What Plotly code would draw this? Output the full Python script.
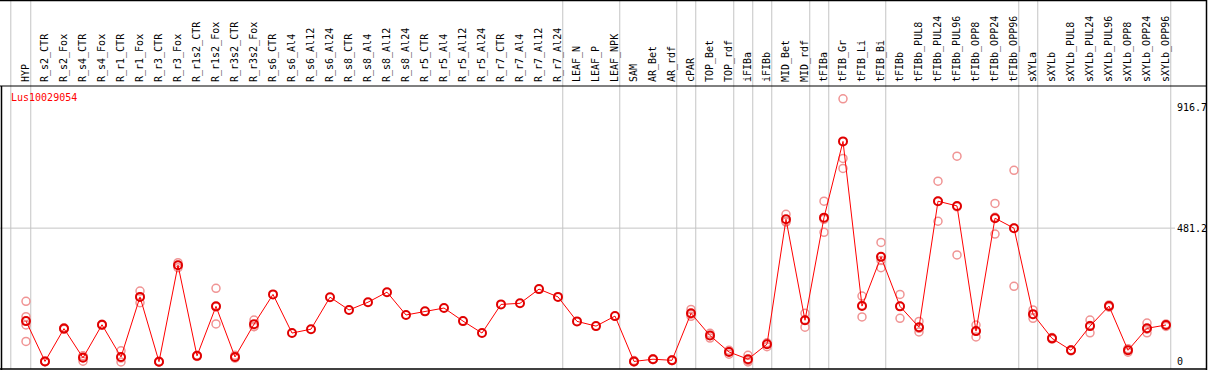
import plotly.graph_objects as go

categories = ["HYP", "R_s2_CTR", "R_s2_Fox", "R_s4_CTR", "R_s4_Fox", "R_r1_CTR", "R_r1_Fox",
              "R_r3_CTR", "R_r3_Fox", "R_r1s2_CTR", "R_r1s2_Fox", "R_r3s2_CTR", "R_r3s2_Fox",
              "R_s6_CTR", "R_s6_Al4", "R_s6_Al12", "R_s6_Al24", "R_s8_CTR", "R_s8_Al4", "R_s8_Al12",
              "R_s8_Al24", "R_r5_CTR", "R_r5_Al4", "R_r5_Al12", "R_r5_Al24", "R_r7_CTR", "R_r7_Al4",
              "R_r7_Al12", "R_r7_Al24", "LEAF_N", "LEAF_P", "LEAF_NPK", "SAM", "AR_Bet", "AR_rdf",
              "cPAR", "TOP_Bet", "TOP_rdf", "iFIBa", "iFIBb", "MID_Bet", "MID_rdf", "tFIBa",
              "tFIB_Gr", "tFIB_Li", "tFIB_Bi", "tFIBb", "tFIBb_PUL8", "tFIBb_PUL24", "tFIBb_PUL96",
              "tFIBb_OPP8", "tFIBb_OPP24", "tFIBb_OPP96", "sXYLa", "sXYLb", "sXYLb_PUL8",
              "sXYLb_PUL24", "sXYLb_PUL96", "sXYLb_OPP8", "sXYLb_OPP24", "sXYLb_OPP96"]

means = [147, 2, 120, 15, 134, 18, 234, 1, 348, 22, 200, 18, 136,
         243, 104, 118, 233, 187, 215, 251, 169, 182, 194, 147, 104, 207, 211, 262, 234,
         146, 129, 165, 2, 10, 6, 175, 95, 36, 10, 64, 513, 150, 519, 793, 201, 378,
         200, 125, 578, 561, 111, 517, 481, 172, 85, 42, 129, 201, 42, 121, 133]

replicates = [
    [218, 163, 133, 74], [4, 1, 1], [123, 118, 119], [22, 3, 21], [136, 132, 134],
    [40, 0, 14], [255, 234, 213], [3, 0, 0], [357, 348, 339], [22, 20, 23],
    [265, 198, 137], [24, 16, 14], [151, 128, 127],
    [], [], [], [], [], [], [], [], [], [], [], [], [], [], [], [], [], [], [],
    [5, 0, 1], [12, 9, 9], [8, 5, 5], [189, 172, 164], [103, 95, 86], [42, 38, 28],
    [24, 5, 0], [69, 66, 55], [531, 505, 503], [175, 150, 125], [578, 513, 466],
    [946, 732, 696], [237, 204, 162], [430, 365, 339], [243, 200, 157], [146, 121, 108],
    [650, 578, 506], [740, 558, 385], [133, 111, 90], [570, 520, 460], [689, 482, 272],
    [187, 171, 157], [88, 85, 82], [44, 42, 40], [151, 131, 105], [205, 201, 197],
    [48, 42, 35], [140, 118, 105], [137, 133, 128],
]

# group separators drawn after these category indices
separators_after = [0, 28, 31, 34, 35, 37, 38, 39, 41, 42, 45, 52, 53, 60]

y_tick_vals = [0, 481.2, 916.7]
y_tick_text = ["0", "481.2", "916.7"]
gene_label = "Lus10029054"

W, H = 1209, 370
FONT = "DejaVu Sans Mono"

rep_x, rep_y = [], []
for i, reps in enumerate(replicates):
    for v in reps:
        rep_x.append(i)
        rep_y.append(v)

idx = list(range(len(categories)))

fig = go.Figure()
fig.add_trace(go.Scatter(
    x=rep_x, y=rep_y, mode="markers",
    marker=dict(symbol="circle-open", size=8, color="#f09494", line=dict(width=1.5, color="#f09494")),
    hoverinfo="skip", cliponaxis=False))
fig.add_trace(go.Scatter(
    x=idx, y=means, mode="lines+markers",
    line=dict(color="#ff0000", width=1),
    marker=dict(symbol="circle-open", size=8, color="#e00000", line=dict(width=2, color="#e00000")),
    cliponaxis=False))

x_right = 1175 / W
y_bot = 1 / H
y_top = 284 / H

shapes = []
sep_x = [-0.8] + [s + 0.25 for s in separators_after]
for sx in sep_x:
    shapes.append(dict(type="line", xref="x", yref="paper", x0=sx, x1=sx, y0=y_bot, y1=1,
                       line=dict(color="#c4c4c4", width=1), layer="below"))
shapes.append(dict(type="line", xref="paper", yref="y", x0=0, x1=x_right, y0=481.2, y1=481.2,
                   line=dict(color="#c4c4c4", width=1), layer="below"))
# frame lines
shapes.append(dict(type="line", xref="paper", yref="paper", x0=0, x1=1206.5 / W, y0=y_top, y1=y_top,
                   line=dict(color="black", width=1)))
shapes.append(dict(type="line", xref="paper", yref="paper", x0=0, x1=1206.5 / W, y0=y_bot, y1=y_bot,
                   line=dict(color="black", width=1.5)))
shapes.append(dict(type="line", xref="paper", yref="paper", x0=1206.5 / W, x1=1206.5 / W, y0=0, y1=1,
                   line=dict(color="black", width=1.5)))
shapes.append(dict(type="line", xref="paper", yref="paper", x0=1.5 / W, x1=1.5 / W, y0=0, y1=y_top,
                   line=dict(color="black", width=1.5)))
shapes.append(dict(type="line", xref="paper", yref="paper", x0=0, x1=1206.5 / W, y0=1 - 0.5 / H, y1=1 - 0.5 / H,
                   line=dict(color="black", width=1.5)))

fig.update_layout(
    width=W, height=H,
    margin=dict(l=0, r=0, t=0, b=0),
    paper_bgcolor="white", plot_bgcolor="white",
    showlegend=False,
    xaxis=dict(domain=[0, x_right], range=[-26 / 19, (1175 - 26) / 19], side="top",
               tickmode="array", tickvals=idx, ticktext=categories, tickangle=-90,
               tickfont=dict(family=FONT, size=10, color="black"), ticklabelstandoff=3,
               showgrid=False, zeroline=False, showline=False, ticks="", automargin=False),
    yaxis=dict(domain=[y_bot, y_top], range=[-25.2, 992.2], side="right",
               tickmode="array", tickvals=y_tick_vals, ticktext=y_tick_text,
               tickfont=dict(family=FONT, size=10, color="black"), ticklabelstandoff=1,
               showgrid=False, zeroline=False, showline=False, ticks="", automargin=False),
    shapes=shapes,
    annotations=[dict(text=gene_label, xref="paper", yref="paper", x=9 / W, y=(H - 97) / H,
                      xanchor="left", yanchor="middle", showarrow=False,
                      font=dict(family=FONT, size=10, color="#ff0000"))],
)

fig.write_html("out.html",
               config={"displayModeBar": False},
               post_script="document.body.style.margin='0';document.body.style.padding='0';"
                           "document.body.style.overflow='hidden';")
